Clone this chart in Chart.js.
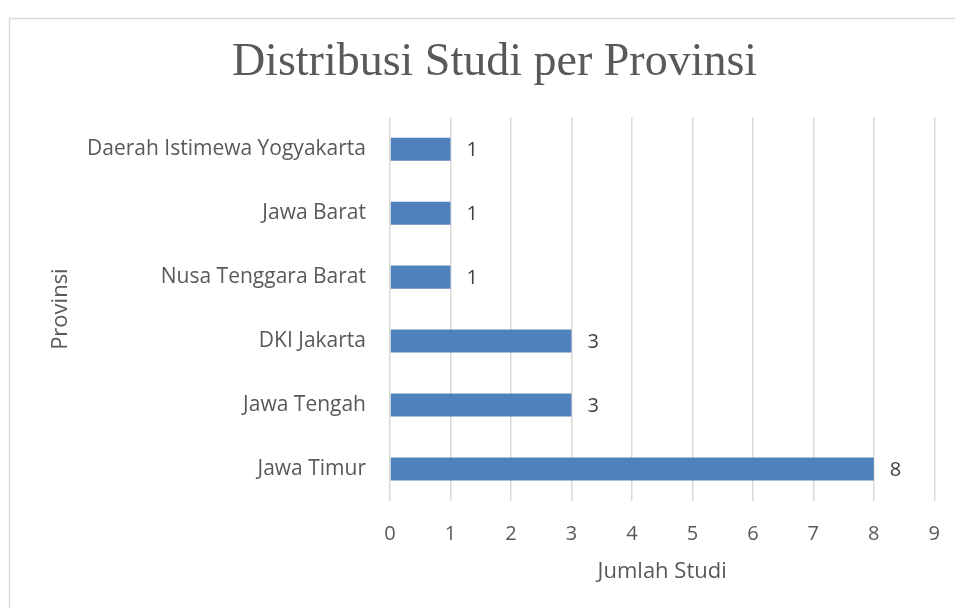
<!DOCTYPE html>
<html>
<head>
<meta charset="utf-8">
<script src="https://cdn.jsdelivr.net/npm/chart.js@4.4.1/dist/chart.umd.min.js"></script>
<style>
  html, body { margin: 0; padding: 0; background: #fff; }
  #wrap { width: 955px; height: 608px; }
</style>
</head>
<body>
<div id="wrap"><canvas id="myChart" width="955" height="608"></canvas></div>
<script>
const provinces = ['Daerah Istimewa Yogyakarta', 'Jawa Barat', 'Nusa Tenggara Barat', 'DKI Jakarta', 'Jawa Tengah', 'Jawa Timur'];
const studyCounts = [1, 1, 1, 3, 3, 8];
const xTicks = [0, 1, 2, 3, 4, 5, 6, 7, 8, 9];

const textColor = '#595959';
const gridColor = '#d9d9d9';
const sansFont = "'Open Sans', 'Noto Sans', sans-serif";

// frame of the chart box (only top and left edges are visible in the picture)
const frame = {
    id: 'frame',
    beforeDraw(chart) {
        const c = chart.ctx;
        c.save();
        c.fillStyle = '#fff';
        c.fillRect(0, 0, chart.width, chart.height);
        c.strokeStyle = gridColor;
        c.lineWidth = 1.5;
        c.beginPath();
        c.moveTo(9.5, chart.height);
        c.lineTo(9.5, 18.5);
        c.lineTo(chart.width, 18.5);
        c.stroke();
        c.restore();
    }
};

// value labels at the end of each bar
const valueLabels = {
    id: 'valueLabels',
    afterDatasetsDraw(chart) {
        const c = chart.ctx;
        const meta = chart.getDatasetMeta(0);
        c.save();
        c.font = "20px " + sansFont;
        c.fillStyle = '#404040';
        c.textBaseline = 'middle';
        c.textAlign = 'left';
        meta.data.forEach((bar, i) => {
            c.fillText(String(studyCounts[i]), bar.x + 16, bar.y + 1);
        });
        c.restore();
    }
};

const ctx = document.getElementById('myChart').getContext('2d');

new Chart(ctx, {
    type: 'bar',
    data: {
        labels: provinces,
        datasets: [{
            label: 'Jumlah Studi',
            data: studyCounts,
            backgroundColor: '#4f81bd',
            borderWidth: 0,
            categoryPercentage: 1,
            barPercentage: 0.36
        }]
    },
    options: {
        indexAxis: 'y',
        responsive: false,
        animation: false,
        layout: {
            padding: { top: 0, left: 44, right: 10, bottom: 19 }
        },
        scales: {
            x: {
                min: 0,
                max: 9,
                afterBuildTicks: (scale) => {
                    scale.ticks = xTicks.map(v => ({ value: v }));
                },
                afterFit: (scale) => { scale.height = 88; },
                border: { display: false },
                grid: {
                    color: gridColor,
                    lineWidth: 1.5,
                    drawTicks: true,
                    tickLength: 6,
                    tickColor: 'rgba(0,0,0,0)'
                },
                ticks: {
                    color: textColor,
                    padding: 15,
                    font: { family: sansFont, size: 20 }
                },
                title: {
                    display: true,
                    text: 'Jumlah Studi',
                    color: textColor,
                    font: { family: sansFont, size: 22 }
                }
            },
            y: {
                afterFit: (scale) => { scale.width = 346; },
                border: { display: false },
                grid: { display: false, drawTicks: false },
                ticks: {
                    color: textColor,
                    padding: 24,
                    font: { family: sansFont, size: 21 }
                },
                title: {
                    display: true,
                    text: 'Provinsi',
                    color: textColor,
                    font: { family: sansFont, size: 22 }
                }
            }
        },
        plugins: {
            legend: { display: false },
            tooltip: { enabled: false },
            title: {
                display: true,
                text: 'Distribusi Studi per Provinsi',
                color: textColor,
                padding: { top: 35, bottom: 27 },
                font: { family: "'Liberation Serif', 'DejaVu Serif', serif", size: 46, weight: 'normal' }
            }
        }
    },
    plugins: [frame, valueLabels]
});
</script>
</body>
</html>
